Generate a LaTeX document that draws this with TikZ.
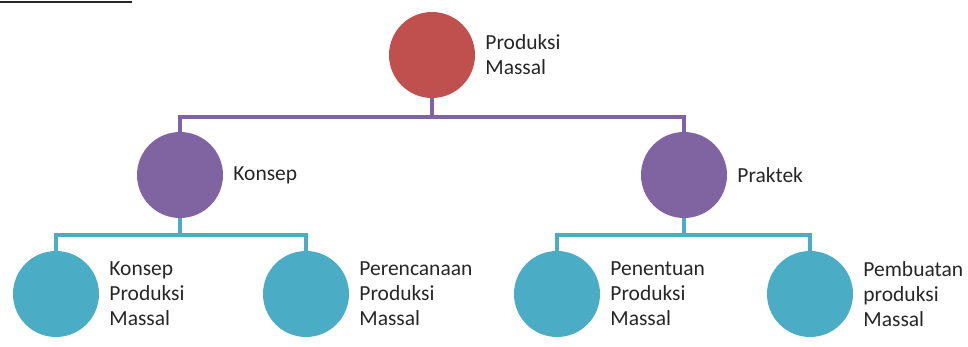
\documentclass[tikz,border=0pt]{standalone}
\usepackage{fontspec}
\setmainfont{Carlito}
\usetikzlibrary{positioning}
\definecolor{rootred}{HTML}{C0504D}
\definecolor{midpurple}{HTML}{8064A2}
\definecolor{leafteal}{HTML}{4BACC6}
\tikzset{
  bubble/.style={circle, minimum size=86pt, inner sep=0pt},
  caption/.style={inner sep=0pt, align=left, anchor=west, text=black!85,
    font=\fontsize{21.5}{25}\selectfont},
  pline/.style={midpurple, line width=4pt},
  tline/.style={leafteal, line width=4pt},
}
\begin{document}
\begin{tikzpicture}[x=1pt,y=-1pt]
\useasboundingbox (0,0) rectangle (968,347);
\draw[black!85, line width=2pt] (0,2) -- (132,2);
%
\node[bubble, fill=rootred] (top) at (432,55) {};
\node[caption, right=10pt of top] (toptext) {Produksi\\Massal};
%
\node[bubble, fill=midpurple] (konsep) at (180,175) {};
\node[caption, right=10pt of konsep] (konseptext) {Konsep};
\node[bubble, fill=midpurple] (praktek) at (684,175) {};
\node[caption, right=10pt of praktek] (praktektext) {Praktek};
%
\node[bubble, fill=leafteal] (leafa) at (56,294) {};
\node[caption, right=10pt of leafa] (leafatext) {Konsep\\Produksi\\Massal};
\node[bubble, fill=leafteal] (leafb) at (306,294) {};
\node[caption, right=10pt of leafb] (leafbtext) {Perencanaan\\Produksi\\Massal};
\node[bubble, fill=leafteal] (leafc) at (557,294) {};
\node[caption, right=10pt of leafc] (leafctext) {Penentuan\\Produksi\\Massal};
\node[bubble, fill=leafteal] (leafd) at (810,294) {};
\node[caption, right=10pt of leafd] (leafdtext) {Pembuatan\\produksi\\Massal};
%
\coordinate (pbar) at (432,117);
\draw[pline] (top.south) -- (pbar);
\draw[pline] (konsep.north) |- (pbar) -| (praktek.north);
%
\coordinate (kbar) at (180,235);
\draw[tline] (konsep.south) -- (kbar);
\draw[tline] (leafa.north) |- (kbar) -| (leafb.north);
\coordinate (rbar) at (684,235);
\draw[tline] (praktek.south) -- (rbar);
\draw[tline] (leafc.north) |- (rbar) -| (leafd.north);
\end{tikzpicture}
\end{document}
